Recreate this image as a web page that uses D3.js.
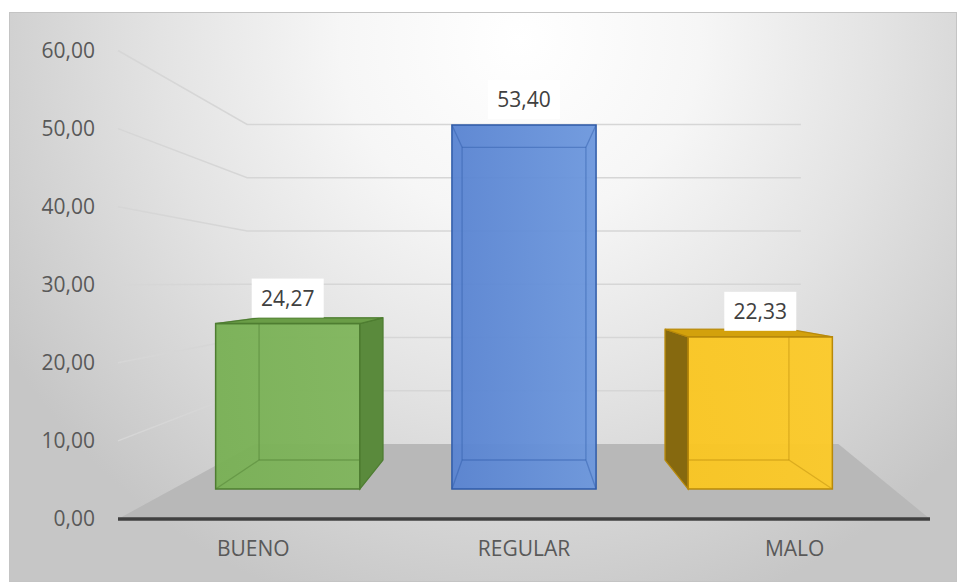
<!DOCTYPE html>
<html>
<head>
<meta charset="utf-8">
<script src="https://cdn.jsdelivr.net/npm/d3@7"></script>
<style>
  html, body { margin: 0; padding: 0; background: #ffffff; }
  svg { display: block; }
</style>
</head>
<body>
<svg id="chart" width="958" height="582"></svg>
<script>
// ---- data ----
const categories = ["BUENO", "REGULAR", "MALO"];
const values = [24.27, 53.40, 22.33];
const yTicks = [0, 10, 20, 30, 40, 50, 60];

// ---- styles ----
const frontColors = [["#78b054", "#7fb55b"], ["#5883d1", "#6c97dd"], ["#fac620", "#fcca28"]];
const sideColors = ["#5a8a3c", "#3f68b0", "#86690f"];
const topColors = ["#6a9d47", "#5a86d3", "#d3a10c"];
const edgeColors = ["#4e7d31", "#2f5ba8", "#b8890a"];

const W = 958, H = 582;
const svg = d3.select("#chart");
const defs = svg.append("defs");

const es = d3.formatLocale({decimal: ",", thousands: ".", grouping: [3], currency: ["", "€"]});
const fmt = es.format(".2f");

// background gradient
const bg = defs.append("radialGradient").attr("id", "bg")
  .attr("gradientUnits", "userSpaceOnUse")
  .attr("cx", 520).attr("cy", 40).attr("r", 600);
bg.append("stop").attr("offset", "0").attr("stop-color", "#ffffff");
bg.append("stop").attr("offset", "0.3").attr("stop-color", "#f6f6f6");
bg.append("stop").attr("offset", "0.6").attr("stop-color", "#e3e3e3");
bg.append("stop").attr("offset", "0.85").attr("stop-color", "#d1d1d1");
bg.append("stop").attr("offset", "1").attr("stop-color", "#c6c6c6");

svg.append("rect").attr("x", 9.5).attr("y", 12.5).attr("width", 947).attr("height", 569)
  .attr("fill", "url(#bg)").attr("stroke", "#c4c4c4").attr("stroke-width", 1);

// ---- scales ----
const x = d3.scaleBand().domain(categories).range([118, 930]).paddingInner(0).paddingOuter(0);
const y = d3.scaleLinear().domain([0, 60]).range([519, 50.5]);

// perspective
const vx = (x.range()[0] + x.range()[1]) / 2;
const vy = 283;
const sWall = 0.682, sFront = 0.873, sBack = 0.75;
const P = (px, py, s) => [vx + (px - vx) * s, vy + (py - vy) * s];

const xL = x.range()[0], xR = x.range()[1];

// gridlines (side wall + back wall)
const line = d3.line();
yTicks.filter(t => t > 0).forEach(t => {
  const a = [xL, y(t)];
  const b = P(xL, y(t), sWall);
  const c = P(xR, y(t), sWall);
  svg.append("path").attr("d", line([a, b, c]))
    .attr("fill", "none").attr("stroke", "#d6d6d6").attr("stroke-width", 1.5);
});

// floor (slightly wider at the back, as in the original 3-D rotation)
const floorSkewL = 12, floorSkewR = 55;
const floor = [[xL, y(0)], [xR, y(0)], P(xR + floorSkewR, y(0), sWall), P(xL + floorSkewL, y(0), sWall)];
svg.append("path").attr("d", line(floor) + "Z").attr("fill", "#b8b8b8");

// axis line
svg.append("line").attr("x1", xL).attr("x2", xR).attr("y1", y(0)).attr("y2", y(0))
  .attr("stroke", "#404040").attr("stroke-width", 3.5);

// tick labels
svg.append("g").selectAll("text").data(yTicks).join("text")
  .attr("x", 95).attr("y", d => y(d)).attr("dy", "0.35em")
  .attr("text-anchor", "end")
  .attr("font-family", "'Open Sans', sans-serif").attr("font-size", 21)
  .attr("fill", "#595959").text(d => fmt(d));

// category labels
svg.append("g").selectAll("text").data(categories).join("text")
  .attr("x", d => x(d) + x.bandwidth() / 2).attr("y", 549).attr("dy", "0.35em")
  .attr("text-anchor", "middle")
  .attr("font-family", "'Open Sans', sans-serif").attr("font-size", 21)
  .attr("fill", "#595959").text(d => d);

// bars
const barFrac = 0.61;
categories.forEach((cat, i) => {
  const bw = x.bandwidth() * barFrac;
  const x0 = x(cat) + (x.bandwidth() - bw) / 2, x1 = x0 + bw;
  const yb = y(0), yt = y(values[i]);
  const F = [P(x0, yt, sFront), P(x1, yt, sFront), P(x1, yb, sFront), P(x0, yb, sFront)];
  const B = [P(x0, yt, sBack), P(x1, yt, sBack), P(x1, yb, sBack), P(x0, yb, sBack)];

  const g = svg.append("g");
  const gid = "fg" + i;
  const lg = defs.append("linearGradient").attr("id", gid).attr("x1", "0").attr("x2", "1").attr("y1", "0").attr("y2", "0");
  lg.append("stop").attr("offset", "0").attr("stop-color", frontColors[i][0]);
  lg.append("stop").attr("offset", "1").attr("stop-color", frontColors[i][1]);

  // front face fill (slightly transparent)
  g.append("path").attr("d", line(F) + "Z").attr("fill", `url(#${gid})`).attr("fill-opacity", 0.95);

  // interior (hidden) edges seen through
  const edges = [[B[0], B[1]], [B[1], B[2]], [B[2], B[3]], [B[3], B[0]],
                 [F[0], B[0]], [F[1], B[1]], [F[2], B[2]], [F[3], B[3]]];
  edges.forEach(e => g.append("path").attr("d", line(e))
    .attr("stroke", edgeColors[i]).attr("stroke-opacity", 0.45).attr("stroke-width", 1.3).attr("fill", "none"));

  // visible side face
  if (x1 < vx) {
    g.append("path").attr("d", line([F[1], B[1], B[2], F[2]]) + "Z")
      .attr("fill", sideColors[i]).attr("stroke", edgeColors[i]).attr("stroke-width", 1.2);
  } else if (x0 > vx) {
    g.append("path").attr("d", line([F[0], B[0], B[3], F[3]]) + "Z")
      .attr("fill", sideColors[i]).attr("stroke", edgeColors[i]).attr("stroke-width", 1.2);
  }
  // visible top face
  if (yt > vy) {
    g.append("path").attr("d", line([F[0], B[0], B[1], F[1]]) + "Z")
      .attr("fill", topColors[i]).attr("stroke", edgeColors[i]).attr("stroke-width", 1.2);
  }
  // front face outline
  g.append("path").attr("d", line(F) + "Z").attr("fill", "none")
    .attr("stroke", edgeColors[i]).attr("stroke-width", 1.5);

  // data label
  const cx = (F[0][0] + F[1][0]) / 2;
  const cy = F[0][1] - 25;
  svg.append("rect").attr("x", cx - 36).attr("y", cy - 20).attr("width", 72).attr("height", 39)
    .attr("fill", "#ffffff");
  svg.append("text").attr("x", cx).attr("y", cy).attr("dy", "0.35em")
    .attr("text-anchor", "middle")
    .attr("font-family", "'Open Sans', sans-serif").attr("font-size", 21)
    .attr("fill", "#404040").text(fmt(values[i]));
});
</script>
</body>
</html>
